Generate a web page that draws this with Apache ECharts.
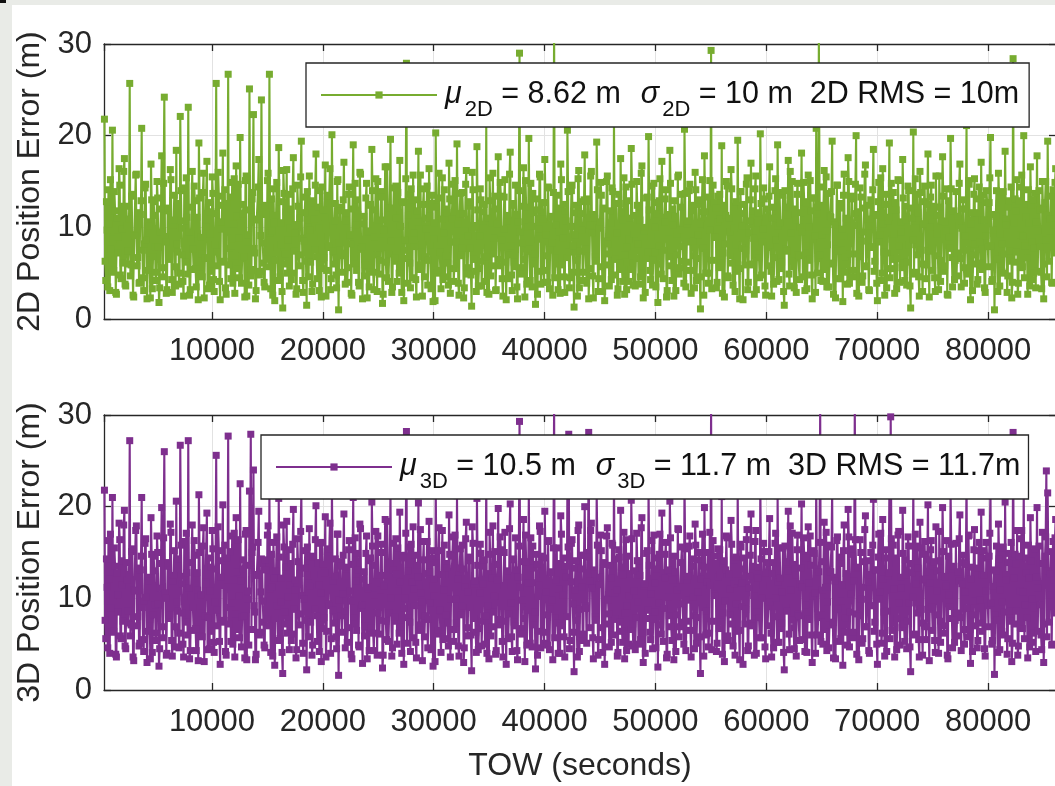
<!DOCTYPE html>
<html><head><meta charset="utf-8">
<script src="https://cdn.jsdelivr.net/npm/echarts@6/dist/echarts.min.js"></script>
<style>html,body{margin:0;padding:0;overflow:hidden;background:#fff}#main{width:1060px;height:786px}</style>
</head><body><div id="main"></div>
<script>
// ---- data ----
const TOW_START = 300;   // first epoch (s)
const TOW_STEP = 120;    // step between epochs of one array (s); the *_mid arrays sit half a step later
const X_MIN = 260, X_MAX = 86130;
const Y_MIN = 0, Y_MAX = 30, Y_STEP = 10;

const err2D = [
21.8, 4.2, 9.7, 14.1, 3.1, 7.6, 20.6, 5.3, 11.8, 2.7, 8.9, 16.4, 4.8, 12.3, 6.1, 17.5, 3.6, 10.2, 7.4, 25.7,
5.9, 13.6, 2.4, 9.1, 15.8, 6.7, 3.9, 11.4, 20.8, 4.5, 8.2, 14.7, 2.2, 10.6, 6.4, 16.9, 3.3, 12.8, 7.9, 5.1,
13.2, 1.8, 9.5, 17.8, 4.6, 24.2, 8.4, 3.2, 12.1, 6.9, 15.2, 2.9, 10.8, 5.7, 18.4, 7.3, 3.8, 22.1, 9.9, 4.1,
14.3, 6.2, 11.1, 23.1, 2.6, 8.7, 16.1, 5.4, 12.9, 3.5, 9.3, 19.2, 4.9, 7.1, 13.8, 2.3, 10.1, 17.2, 6.6, 3.7,
11.7, 15.5, 4.3, 8.1, 25.7, 5.8, 13.4, 2.1, 9.8, 18.1, 6.3, 3.4, 12.6, 26.7, 7.7, 4.4, 14.9, 10.4, 2.8, 16.7,
5.5, 8.8, 19.8, 3.9, 11.5, 6.8, 15.1, 2.5, 9.2, 25.1, 4.7, 13.1, 22.3, 7.2, 3.1, 10.9, 17.4, 5.2, 23.9, 8.3,
4.0, 12.4, 6.5, 15.9, 26.7, 3.3, 9.6, 14.2, 2.0, 11.3, 7.8, 18.7, 4.6, 10.5, 1.2, 13.7, 6.0, 16.3, 8.6, 3.6,
12.0, 5.0, 17.6, 9.4, 2.7, 14.6, 7.0, 11.0, 19.4, 4.2, 8.5, 13.3, 1.5, 10.0, 15.6, 6.2, 3.0, 12.7, 7.5, 18.0,
4.4, 9.9, 14.0, 2.4, 11.9, 6.7, 16.8, 5.3, 8.0, 13.5, 3.2, 20.1, 7.4, 10.7, 4.8, 15.0, 1.0, 12.2, 6.9, 9.0,
17.1, 3.8, 11.6, 5.6, 14.4, 8.2, 2.6, 19.0, 6.0, 10.3, 13.0, 4.0, 16.0, 7.6, 2.2, 11.2, 5.9, 14.8, 9.5, 3.5,
12.5, 18.5, 5.1, 8.9, 15.3, 3.0, 10.8, 6.4, 13.9, 1.7, 9.7, 16.6, 4.5, 12.1, 7.1, 19.6, 2.9, 11.4, 6.3, 14.5,
4.1, 9.3, 17.3, 5.7, 12.8, 2.0, 8.6, 27.9, 6.6, 13.6, 3.4, 10.2, 15.7, 7.9, 4.3, 11.8, 18.3, 5.4, 9.0, 2.5,
14.2, 6.8, 11.0, 3.7, 16.4, 8.1, 12.6, 1.9, 10.5, 20.3, 5.0, 13.2, 7.2, 3.3, 15.4, 9.4, 4.6, 12.0, 6.1, 17.0,
2.8, 10.9, 14.7, 5.5, 8.4, 19.1, 3.9, 11.5, 6.9, 13.8, 2.3, 9.6, 16.2, 4.9, 12.3, 7.7, 1.4, 14.1, 10.0, 5.2,
18.8, 3.6, 9.1, 13.0, 6.3, 11.7, 4.1, 21.4, 7.8, 2.7, 12.9, 5.8, 15.9, 8.8, 3.1, 10.4, 17.7, 6.5, 13.4, 4.4,
9.8, 15.2, 2.1, 11.3, 7.0, 18.2, 4.8, 12.4, 6.2, 14.6, 3.5, 10.6, 29.0, 5.6, 8.3, 16.5, 2.4, 12.2, 7.4, 19.7,
4.2, 10.1, 13.7, 6.0, 1.6, 11.9, 8.7, 15.8, 3.8, 12.7, 5.3, 17.4, 9.2, 4.0, 14.3, 7.5, 11.1, 2.6, 32.0, 6.7,
13.5, 3.2, 9.5, 16.9, 5.9, 12.5, 2.9, 10.7, 20.6, 7.3, 4.5, 14.0, 8.0, 1.3, 11.6, 6.4, 15.3, 3.4, 12.8, 9.7,
5.1, 17.9, 7.6, 13.1, 2.2, 10.3, 16.1, 4.7, 11.4, 6.8, 19.3, 3.0, 9.9, 14.9, 5.7, 12.1, 2.0, 8.5, 15.6, 7.1,
11.8, 4.3, 13.9, 21.9, 6.5, 9.4, 3.3, 12.6, 17.5, 5.4, 10.8, 2.7, 14.4, 7.9, 4.1, 11.0, 18.6, 6.1, 9.3, 3.6,
15.0, 8.2, 12.2, 4.6, 16.7, 2.3, 10.0, 6.6, 13.3, 19.9, 5.3, 9.0, 3.7, 14.8, 7.3, 11.5, 1.8, 12.9, 6.0, 17.2,
4.4, 10.6, 14.1, 3.1, 8.7, 18.4, 5.8, 12.0, 2.5, 11.2, 7.0, 15.5, 4.9, 9.7, 13.6, 6.3, 20.7, 3.5, 10.4, 8.4,
14.7, 2.8, 12.4, 6.9, 16.0, 4.2, 9.2, 13.0, 1.1, 11.7, 7.7, 17.8, 5.0, 10.2, 3.9, 15.1, 29.3, 6.4, 12.7, 8.9,
3.4, 13.4, 5.6, 10.9, 18.9, 7.2, 2.4, 11.3, 14.5, 4.5, 9.5, 16.3, 6.1, 12.3, 3.0, 8.1, 19.5, 5.5, 13.9, 10.1,
2.1, 12.5, 7.5, 15.4, 4.0, 10.7, 17.0, 5.9, 8.8, 14.2, 3.2, 11.6, 6.7, 20.2, 4.8, 9.8, 13.1, 2.6, 12.0, 7.8,
16.6, 5.2, 11.0, 3.8, 14.0, 8.6, 19.0, 4.3, 10.5, 6.2, 13.5, 1.5, 12.2, 7.4, 17.3, 3.6, 9.4, 15.0, 5.7, 11.4,
2.9, 14.8, 6.9, 10.0, 18.1, 4.6, 12.8, 8.0, 3.3, 15.7, 6.5, 11.8, 2.2, 13.2, 9.1, 20.8, 5.0, 31.0, 7.0, 12.4,
4.1, 16.2, 9.6, 3.5, 13.7, 6.0, 11.1, 19.4, 2.7, 10.3, 7.6, 14.6, 4.4, 12.6, 8.3, 1.9, 15.8, 6.8, 10.9, 17.6,
3.9, 9.0, 13.4, 5.3, 11.5, 20.0, 7.1, 2.5, 14.3, 8.5, 4.7, 12.1, 16.8, 5.8, 10.1, 3.1, 13.0, 7.9, 18.5, 6.3,
11.3, 2.0, 14.9, 9.2, 4.2, 16.4, 7.3, 12.5, 3.4, 10.7, 19.2, 5.5, 8.7, 13.8, 2.8, 11.9, 6.6, 15.1, 4.0, 9.5,
17.4, 6.1, 12.3, 3.7, 14.5, 8.1, 1.2, 11.0, 20.4, 5.1, 9.9, 13.6, 4.6, 16.1, 7.5, 3.0, 12.8, 10.4, 5.9, 18.0,
2.4, 13.3, 7.8, 11.7, 4.5, 15.6, 9.3, 3.2, 12.2, 6.4, 17.7, 5.2, 10.6, 14.2, 2.6, 8.9, 19.7, 6.7, 11.4, 4.3,
13.9, 7.2, 10.2, 16.9, 3.5, 12.0, 5.6, 9.1, 21.1, 4.9, 14.7, 2.1, 11.6, 7.0, 15.3, 6.0, 3.8, 13.1, 8.4, 17.1,
5.4, 10.8, 2.9, 14.0, 7.9, 12.7, 19.8, 4.1, 9.7, 1.0, 11.2, 6.5, 15.9, 3.6, 13.5, 8.2, 5.0, 18.3, 10.3, 4.7,
12.9, 7.4, 2.3, 28.4, 6.2, 11.8, 15.2, 3.9, 9.2, 14.4, 5.7, 20.0, 8.0, 12.5, 2.7, 10.5, 16.6, 4.3, 13.0, 7.7,
3.4, 17.8, 9.6, 11.9, 5.1, 15.0, 2.2, 12.7, 8.6, 19.4, 6.3, 10.9, 4.0, 14.1, 7.2, 16.4, 3.3, 11.5, 9.0, 13.7
];
const err2D_mid = [
6.3, 12.8, 3.5, 10.4, 15.2, 5.1, 8.7, 13.9, 2.9, 11.0, 7.2, 14.6, 4.4, 9.8, 16.1, 3.8, 12.3, 6.0, 10.9, 4.7,
13.4, 2.6, 9.2, 15.7, 5.8, 11.6, 4.0, 12.9, 7.5, 3.1, 14.3, 8.6, 5.3, 10.1, 2.3, 13.0, 6.8, 11.3, 4.2, 15.0,
7.9, 3.4, 12.0, 5.6, 14.8, 9.0, 2.8, 11.8, 6.5, 16.3, 4.3, 10.3, 13.5, 3.6, 8.2, 12.6, 5.0, 14.0, 7.0, 2.5,
10.7, 15.4, 4.9, 9.5, 3.2, 12.2, 7.6, 14.5, 5.5, 11.1, 2.1, 13.2, 8.9, 4.6, 15.9, 6.7, 10.0, 3.3, 12.7, 9.3,
5.2, 13.7, 3.0, 11.5, 7.3, 16.0, 4.1, 10.6, 12.4, 6.2, 14.1, 2.7, 9.6, 5.9, 13.3, 8.0, 3.9, 15.3, 6.9, 11.2,
14.7, 4.5, 10.2, 6.6, 12.5, 2.4, 15.6, 8.4, 3.7, 11.9, 5.4, 13.8, 7.7, 2.2, 10.8, 14.4, 4.8, 9.1, 12.1, 6.1,
3.5, 11.4, 15.1, 5.7, 9.4, 13.1, 2.6, 10.5, 6.4, 14.9, 4.2, 12.8, 8.1, 3.0, 16.2, 7.1, 11.7, 5.0, 13.6, 9.9,
4.3, 14.2, 7.4, 10.3, 3.3, 12.3, 5.8, 15.5, 8.8, 2.9, 11.6, 6.3, 13.9, 4.6, 9.7, 12.9, 3.8, 10.9, 14.6, 6.8,
12.2, 3.1, 9.0, 14.4, 5.5, 11.1, 2.5, 13.4, 7.8, 16.4, 4.4, 10.2, 6.0, 12.6, 3.4, 15.2, 8.3, 11.8, 5.1, 13.0,
7.2, 10.7, 4.0, 13.6, 9.2, 2.8, 12.0, 6.6, 14.8, 5.3, 11.4, 3.6, 15.8, 7.9, 10.4, 4.7, 13.2, 2.3, 9.6, 12.4,
5.6, 14.0, 3.2, 11.9, 7.0, 15.0, 4.9, 9.3, 13.3, 2.7, 10.8, 6.2, 16.6, 4.1, 12.1, 8.5, 3.5, 14.3, 6.7, 11.0,
13.8, 5.0, 10.1, 2.9, 12.7, 7.5, 15.3, 3.9, 11.3, 6.1, 14.2, 4.5, 9.4, 13.0, 2.4, 10.6, 5.9, 15.7, 8.1, 12.5,
4.6, 9.8, 14.5, 6.4, 11.2, 3.3, 13.5, 8.7, 2.0, 12.2, 5.3, 15.9, 7.3, 10.9, 4.3, 14.1, 6.9, 11.6, 3.7, 13.1,
8.4, 12.9, 4.1, 15.1, 6.0, 10.4, 2.6, 13.7, 7.7, 11.5, 3.4, 14.7, 5.6, 9.1, 12.8, 4.8, 16.0, 6.5, 10.2, 3.0,
11.9, 5.5, 14.2, 3.6, 9.9, 12.5, 6.8, 2.9, 11.0, 15.4, 4.7, 10.5, 7.1, 13.4, 3.2, 12.0, 5.8, 14.9, 8.6, 2.5,
13.3, 6.2, 10.7, 4.4, 15.8, 8.0, 3.1, 12.6, 5.7, 11.4, 2.2, 14.0, 9.5, 4.9, 12.3, 6.5, 15.1, 3.8, 10.0, 7.6,
14.8, 3.5, 11.6, 7.1, 13.1, 2.7, 9.8, 15.5, 5.2, 10.9, 4.0, 12.7, 6.9, 14.4, 3.3, 11.2, 8.3, 13.8, 4.5, 10.3,
6.0, 12.1, 2.8, 15.2, 8.8, 4.6, 11.8, 6.7, 13.9, 3.4, 10.1, 14.6, 5.1, 9.2, 12.4, 2.5, 16.2, 7.4, 11.5, 4.2,
13.0, 7.8, 3.9, 12.8, 5.5, 15.6, 9.4, 2.3, 11.0, 6.3, 14.1, 4.4, 10.6, 13.5, 3.0, 12.0, 5.9, 15.0, 8.2, 3.6,
10.5, 14.3, 4.8, 9.0, 12.6, 2.6, 13.6, 6.1, 11.7, 4.1, 15.4, 7.0, 3.2, 12.9, 8.7, 5.4, 14.7, 3.7, 11.3, 6.6,
12.4, 3.8, 10.8, 15.9, 5.0, 9.6, 2.9, 13.2, 7.3, 11.9, 4.3, 14.5, 6.4, 10.0, 3.5, 12.7, 8.0, 15.3, 4.9, 11.1,
7.5, 13.1, 2.4, 11.4, 6.8, 14.8, 4.2, 10.3, 12.9, 3.1, 9.3, 15.7, 5.6, 12.2, 7.9, 3.9, 13.7, 6.2, 10.7, 14.0,
5.3, 11.8, 8.5, 3.4, 14.1, 6.6, 12.5, 4.6, 10.4, 15.2, 2.6, 11.7, 7.2, 13.3, 5.0, 9.7, 3.3, 14.6, 8.9, 12.1,
4.0, 10.6, 13.6, 6.1, 2.8, 12.4, 8.2, 15.0, 4.7, 11.0, 6.9, 14.2, 3.7, 9.9, 12.8, 5.2, 10.2, 2.2, 13.9, 7.7,
11.5, 5.9, 14.7, 3.2, 9.4, 13.0, 6.0, 11.8, 2.7, 15.6, 7.1, 10.5, 4.5, 12.6, 8.4, 14.3, 3.6, 11.1, 5.8, 13.4,
8.1, 2.5, 12.2, 6.7, 15.3, 4.1, 10.1, 13.8, 5.5, 9.0, 3.0, 14.0, 7.6, 11.3, 4.9, 16.1, 6.3, 12.0, 3.4, 10.8,
13.6, 7.0, 4.3, 11.6, 9.5, 14.9, 3.1, 12.7, 6.4, 10.0, 15.1, 4.8, 8.7, 13.2, 2.9, 11.5, 6.6, 14.4, 4.2, 9.2,
12.3, 5.4, 15.5, 8.1, 3.5, 11.2, 13.9, 6.1, 10.6, 2.3, 14.6, 7.4, 12.1, 4.4, 9.8, 13.5, 5.1, 11.0, 3.8, 15.0,
7.1, 13.1, 4.6, 10.2, 14.7, 2.8, 11.7, 6.8, 13.3, 4.0, 9.5, 15.8, 5.7, 12.4, 3.2, 10.9, 7.8, 14.1, 5.2, 11.4,
3.9, 12.8, 8.4, 15.4, 5.0, 10.4, 2.6, 13.6, 7.2, 11.1, 4.5, 14.8, 6.5, 9.3, 12.7, 3.3, 15.2, 8.0, 10.6, 5.6,
13.2, 4.2, 10.8, 6.2, 14.0, 3.6, 12.1, 8.6, 4.9, 15.3, 7.0, 11.6, 2.5, 13.8, 6.0, 10.3, 14.5, 4.4, 12.5, 7.4,
10.0, 14.6, 5.3, 12.3, 3.0, 11.3, 6.9, 15.6, 4.1, 10.7, 13.4, 5.8, 9.6, 2.7, 12.9, 7.7, 14.2, 3.5, 11.8, 6.4,
4.7, 11.2, 14.8, 6.6, 9.9, 13.0, 3.9, 12.0, 7.5, 15.1, 5.4, 10.4, 3.1, 13.6, 8.2, 11.6, 4.3, 14.4, 6.1, 10.8,
13.5, 3.4, 9.1, 12.7, 5.7, 15.4, 8.0, 4.3, 11.4, 6.9, 14.0, 3.0, 12.6, 9.3, 5.2, 13.9, 7.1, 10.9, 2.9, 12.2,
6.3, 14.4, 4.0, 10.5, 13.1, 7.3, 2.7, 12.9, 5.6, 15.7, 9.1, 4.5, 11.1, 6.7, 14.1, 3.6, 12.4, 8.4, 5.0, 13.7,
10.6, 5.2, 14.0, 7.9, 3.3, 12.1, 6.0, 15.0, 4.6, 11.3, 8.8, 13.4, 3.9, 10.3, 14.9, 5.7, 12.0, 7.0, 4.4, 11.7
];

const err3D = [
21.8, 5.6, 11.2, 16.3, 4.0, 8.9, 21.0, 6.4, 13.5, 3.6, 10.4, 18.2, 5.9, 14.1, 7.5, 19.6, 4.5, 12.0, 8.6, 27.2,
7.1, 15.4, 3.2, 10.8, 17.9, 8.0, 4.8, 13.1, 21.0, 5.5, 9.7, 16.5, 3.0, 12.3, 7.7, 18.8, 4.1, 14.6, 9.3, 6.2,
15.0, 2.6, 11.1, 19.9, 5.7, 26.0, 10.0, 4.0, 13.9, 8.2, 17.2, 3.7, 12.5, 6.9, 20.6, 8.6, 4.6, 26.7, 11.6, 5.0,
16.2, 7.4, 12.8, 27.2, 3.4, 10.2, 18.0, 6.5, 14.7, 4.3, 10.9, 21.3, 5.9, 8.4, 15.7, 3.1, 11.8, 19.3, 7.9, 4.5,
13.4, 17.4, 5.2, 9.6, 25.6, 7.0, 15.2, 2.8, 11.4, 20.2, 7.6, 4.2, 14.4, 27.7, 9.0, 5.3, 16.8, 12.0, 3.6, 18.8,
6.6, 10.3, 22.5, 4.7, 13.2, 8.1, 17.0, 3.3, 10.8, 21.7, 27.9, 15.0, 24.0, 8.5, 3.9, 12.6, 19.5, 6.3, 14.3, 9.7,
4.9, 14.2, 7.7, 17.9, 21.5, 4.1, 11.2, 16.1, 2.7, 13.0, 9.2, 20.9, 5.6, 12.2, 1.8, 15.6, 7.2, 18.4, 10.1, 4.4,
13.8, 6.1, 19.7, 10.9, 3.5, 16.5, 8.3, 12.7, 21.6, 5.1, 9.9, 15.2, 2.2, 11.7, 17.6, 7.4, 3.8, 14.5, 8.8, 20.1,
5.3, 11.5, 16.0, 3.1, 13.7, 7.9, 18.9, 6.4, 9.4, 15.4, 4.0, 22.2, 8.7, 12.4, 5.8, 17.0, 1.6, 14.0, 8.1, 10.5,
19.2, 4.6, 13.4, 6.8, 16.3, 9.7, 3.4, 21.0, 7.2, 11.9, 14.9, 4.9, 18.1, 8.9, 2.9, 12.9, 7.0, 16.8, 11.0, 4.3,
14.4, 20.5, 6.2, 10.4, 17.3, 3.8, 12.5, 7.6, 15.9, 2.4, 11.3, 18.6, 5.5, 13.9, 8.4, 21.8, 3.7, 13.1, 7.5, 16.5,
5.0, 10.8, 19.4, 6.9, 14.7, 2.8, 10.0, 28.2, 7.9, 15.6, 4.2, 11.8, 17.8, 9.2, 5.2, 13.6, 20.4, 6.5, 10.6, 3.2,
16.2, 8.1, 12.7, 4.6, 18.4, 9.5, 14.4, 2.6, 12.1, 22.4, 6.1, 15.2, 8.6, 4.1, 17.4, 10.9, 5.6, 13.8, 7.3, 19.1,
3.6, 12.6, 16.7, 6.6, 9.9, 21.2, 4.8, 13.3, 8.2, 15.8, 3.0, 11.2, 18.3, 5.9, 14.1, 9.0, 2.1, 16.0, 11.6, 6.3,
20.9, 4.4, 10.6, 14.9, 7.5, 13.5, 5.0, 23.6, 9.2, 3.4, 14.8, 6.9, 17.9, 10.3, 3.9, 12.0, 19.8, 7.7, 15.3, 5.3,
11.4, 17.2, 2.8, 13.0, 8.3, 20.3, 5.8, 14.2, 7.4, 16.6, 4.3, 12.3, 29.3, 6.7, 9.8, 18.6, 3.1, 14.0, 8.7, 21.9,
5.1, 11.7, 15.7, 7.1, 2.3, 13.7, 10.2, 17.9, 4.6, 14.6, 6.3, 19.5, 10.7, 4.9, 16.3, 8.8, 12.8, 3.3, 31.5, 7.9,
15.5, 4.0, 11.0, 19.0, 7.0, 14.4, 3.6, 12.3, 22.8, 27.9, 5.4, 16.0, 9.4, 2.0, 13.3, 7.6, 17.4, 4.2, 14.7, 11.2,
6.1, 20.0, 8.9, 15.0, 28.1, 11.9, 18.2, 5.7, 13.1, 8.0, 21.5, 3.8, 11.5, 16.9, 6.8, 13.9, 2.8, 9.9, 17.7, 8.3,
13.6, 5.2, 15.8, 23.9, 7.7, 10.9, 4.1, 14.5, 19.6, 6.4, 12.5, 3.4, 16.4, 9.2, 5.0, 12.7, 20.7, 7.2, 10.8, 4.4,
17.1, 9.6, 14.1, 5.5, 18.8, 3.0, 11.6, 7.8, 15.2, 22.0, 6.3, 10.5, 4.5, 16.9, 8.5, 13.2, 2.5, 14.8, 7.1, 19.3,
5.3, 12.2, 16.1, 3.9, 10.1, 20.6, 6.9, 13.9, 3.3, 12.9, 8.2, 17.6, 5.8, 11.2, 15.6, 7.4, 22.9, 4.3, 12.0, 9.8,
16.8, 3.6, 14.3, 8.1, 18.1, 5.1, 10.7, 15.0, 1.8, 13.5, 9.0, 19.9, 6.0, 11.8, 4.7, 17.2, 31.0, 7.5, 14.6, 10.3,
4.2, 15.4, 6.7, 12.6, 21.1, 8.4, 3.1, 13.1, 16.6, 5.4, 11.0, 18.5, 7.2, 14.2, 3.8, 9.4, 21.7, 6.5, 15.9, 11.7,
2.8, 14.4, 8.8, 17.5, 4.8, 12.4, 19.2, 7.0, 10.3, 16.2, 4.0, 13.4, 7.9, 22.3, 5.7, 11.4, 15.1, 3.4, 13.9, 9.1,
18.7, 6.2, 12.7, 4.6, 16.0, 10.0, 21.2, 5.2, 12.2, 7.3, 15.5, 2.2, 14.0, 8.6, 19.5, 4.4, 10.9, 17.1, 6.8, 13.2,
3.7, 16.9, 8.1, 11.6, 20.3, 5.5, 14.7, 9.3, 4.1, 17.8, 7.7, 13.6, 3.0, 15.2, 10.6, 22.9, 6.0, 12.9, 31.0, 8.2,
5.0, 18.3, 11.2, 4.3, 15.8, 7.1, 12.9, 21.6, 3.5, 11.9, 8.9, 16.7, 5.3, 14.5, 9.7, 2.7, 18.0, 7.9, 12.6, 19.7,
4.7, 10.5, 15.4, 6.3, 31.0, 13.3, 8.3, 3.3, 16.4, 9.9, 5.6, 14.0, 19.0, 6.9, 11.8, 4.0, 15.0, 9.2, 20.8, 7.4,
13.1, 2.8, 17.0, 10.7, 5.1, 18.6, 8.5, 14.4, 4.2, 12.4, 21.4, 29.8, 6.5, 15.8, 3.6, 13.8, 7.8, 17.3, 4.9, 11.1,
19.6, 7.2, 14.2, 4.5, 16.7, 9.5, 2.0, 12.8, 22.6, 6.1, 11.6, 15.7, 5.5, 18.3, 8.8, 3.8, 14.8, 12.1, 6.9, 20.2,
3.2, 15.3, 9.1, 13.5, 5.4, 17.8, 10.8, 4.0, 14.1, 7.5, 19.9, 6.2, 12.3, 16.3, 3.4, 10.4, 21.9, 7.8, 13.2, 5.2,
16.0, 8.4, 11.9, 19.1, 4.3, 13.9, 6.6, 10.7, 23.2, 5.8, 16.9, 2.9, 13.4, 8.2, 17.5, 7.0, 4.6, 15.2, 9.8, 19.4,
6.4, 12.5, 3.7, 16.1, 9.2, 14.6, 21.9, 5.0, 11.3, 1.7, 13.0, 7.6, 18.1, 4.4, 15.5, 9.6, 6.0, 20.5, 12.0, 5.6,
14.9, 8.6, 3.1, 28.1, 7.2, 13.7, 17.4, 4.8, 10.8, 16.5, 6.7, 22.1, 9.3, 14.4, 3.5, 12.2, 18.8, 5.2, 15.0, 8.9,
4.2, 19.9, 11.1, 13.8, 6.0, 17.2, 3.0, 14.6, 23.9, 21.5, 7.4, 12.7, 4.9, 16.2, 8.4, 18.6, 4.1, 13.3, 10.5, 15.8
];
const err3D_mid = [
7.6, 14.3, 4.6, 12.1, 17.0, 6.3, 10.2, 15.5, 3.9, 12.8, 8.5, 16.4, 5.6, 11.5, 18.0, 4.8, 13.9, 7.3, 12.6, 5.9,
15.1, 3.6, 10.9, 17.4, 7.0, 13.3, 5.1, 14.6, 9.0, 4.2, 16.0, 10.1, 6.4, 11.9, 3.4, 14.8, 8.2, 13.0, 5.4, 16.8,
9.4, 4.5, 13.8, 6.9, 16.6, 10.6, 3.8, 13.5, 7.8, 18.1, 5.4, 11.9, 15.2, 4.7, 9.6, 14.3, 6.2, 15.8, 8.4, 3.6,
12.4, 17.1, 6.0, 11.1, 4.3, 13.9, 9.0, 16.3, 6.7, 12.8, 3.2, 15.0, 10.4, 5.8, 17.7, 8.1, 11.6, 4.4, 14.4, 10.8,
6.4, 15.4, 4.1, 13.2, 8.7, 17.8, 5.3, 12.3, 14.1, 7.4, 15.8, 3.8, 11.2, 7.2, 15.1, 9.5, 5.0, 17.1, 8.3, 12.9,
16.4, 5.7, 11.9, 8.0, 14.2, 3.5, 17.4, 9.9, 4.9, 13.6, 6.6, 15.6, 9.2, 3.3, 12.5, 16.1, 6.0, 10.7, 13.8, 7.4,
4.6, 13.1, 16.9, 7.0, 11.0, 14.8, 3.7, 12.2, 7.8, 16.7, 5.4, 14.5, 9.6, 4.1, 18.0, 8.5, 13.4, 6.2, 15.3, 11.5,
5.4, 15.9, 8.8, 12.0, 4.4, 14.0, 7.1, 17.3, 10.3, 4.0, 13.3, 7.6, 15.6, 5.8, 11.3, 14.6, 4.9, 12.6, 16.4, 8.1,
13.9, 4.2, 10.6, 16.1, 6.7, 12.8, 3.6, 15.1, 9.2, 18.2, 5.6, 11.9, 7.3, 14.3, 4.5, 17.0, 9.8, 13.5, 6.3, 14.7,
8.6, 12.4, 5.2, 15.3, 10.8, 3.9, 13.7, 7.9, 16.6, 6.5, 13.1, 4.7, 17.6, 9.3, 12.1, 5.9, 14.9, 3.4, 11.2, 14.1,
6.8, 15.7, 4.3, 13.6, 8.4, 16.8, 6.1, 10.9, 15.0, 3.8, 12.5, 7.5, 18.4, 5.3, 13.8, 10.0, 4.6, 16.0, 8.0, 12.7,
15.5, 6.2, 11.8, 4.0, 14.4, 8.9, 17.1, 5.1, 13.0, 7.4, 15.9, 5.7, 11.0, 14.7, 3.5, 12.3, 7.1, 17.5, 9.6, 14.2,
5.8, 11.4, 16.2, 7.7, 12.9, 4.4, 15.2, 10.3, 3.1, 13.9, 6.5, 17.7, 8.7, 12.6, 5.5, 15.8, 8.2, 13.3, 4.8, 14.8,
9.9, 14.6, 5.3, 16.9, 7.3, 12.1, 3.7, 15.4, 9.2, 13.2, 4.6, 16.5, 6.8, 10.7, 14.5, 6.0, 17.8, 7.8, 11.9, 4.1,
13.6, 6.7, 15.9, 4.8, 11.6, 14.2, 8.1, 4.0, 12.7, 17.2, 5.9, 12.2, 8.5, 15.1, 4.3, 13.7, 7.1, 16.7, 10.2, 3.6,
15.0, 7.5, 12.4, 5.6, 17.6, 9.5, 4.2, 14.3, 7.0, 13.1, 3.3, 15.7, 11.2, 6.1, 14.0, 7.8, 16.9, 4.9, 11.7, 9.0,
16.6, 4.7, 13.3, 8.5, 14.8, 3.8, 11.5, 17.3, 6.4, 12.6, 5.1, 14.4, 8.2, 16.2, 4.4, 12.9, 9.8, 15.5, 5.7, 12.0,
7.3, 13.8, 4.0, 17.0, 10.4, 5.8, 13.5, 8.0, 15.6, 4.5, 11.8, 16.4, 6.3, 10.9, 14.1, 3.6, 18.0, 8.8, 13.2, 5.4,
14.7, 9.2, 5.1, 14.5, 6.8, 17.4, 11.1, 3.4, 12.7, 7.6, 15.8, 5.5, 12.3, 15.2, 4.1, 13.7, 7.2, 16.8, 9.8, 4.7,
12.2, 16.0, 6.0, 10.6, 14.3, 3.7, 15.3, 7.4, 13.4, 5.2, 17.2, 8.4, 4.3, 14.6, 10.3, 6.6, 16.5, 4.8, 13.0, 7.9,
14.1, 5.0, 12.5, 17.7, 6.2, 11.3, 4.0, 14.9, 8.7, 13.6, 5.5, 16.3, 7.7, 11.7, 4.6, 14.4, 9.5, 17.0, 6.1, 12.8,
8.9, 14.8, 3.5, 13.1, 8.1, 16.6, 5.4, 12.0, 14.6, 4.2, 10.9, 17.5, 6.9, 13.9, 9.4, 5.0, 15.4, 7.5, 12.4, 15.7,
6.5, 13.5, 10.1, 4.5, 15.8, 7.9, 14.2, 5.8, 12.1, 17.0, 3.7, 13.4, 8.6, 15.0, 6.2, 11.4, 4.4, 16.3, 10.5, 13.8,
5.1, 12.3, 15.3, 7.4, 3.9, 14.1, 9.7, 16.8, 5.9, 12.7, 8.2, 15.9, 4.8, 11.6, 14.5, 6.4, 11.9, 3.3, 15.6, 9.1,
13.2, 7.2, 16.4, 4.3, 11.1, 14.7, 7.3, 13.5, 3.8, 17.4, 8.5, 12.2, 5.7, 14.3, 10.0, 16.0, 4.7, 12.8, 7.0, 15.1,
9.6, 3.6, 13.9, 8.0, 17.1, 5.2, 11.8, 15.5, 6.7, 10.7, 4.1, 15.7, 9.0, 13.0, 6.1, 17.9, 7.6, 13.7, 4.5, 12.5,
15.3, 8.3, 5.4, 13.3, 11.2, 16.6, 4.2, 14.4, 7.7, 11.7, 16.8, 6.0, 10.3, 14.9, 4.0, 13.2, 7.9, 16.1, 5.3, 10.9,
14.0, 6.6, 17.2, 9.6, 4.6, 12.9, 15.6, 7.4, 12.3, 3.4, 16.3, 8.8, 13.8, 5.6, 11.5, 15.2, 6.3, 12.7, 4.9, 16.7,
8.5, 14.8, 5.7, 11.9, 16.4, 3.9, 13.4, 8.1, 15.0, 5.1, 11.2, 17.5, 6.9, 14.1, 4.3, 12.6, 9.2, 15.8, 6.4, 13.1,
5.0, 14.5, 9.9, 17.1, 6.2, 12.1, 3.7, 15.3, 8.6, 12.8, 5.6, 16.5, 7.8, 11.0, 14.4, 4.4, 16.9, 9.5, 12.3, 6.8,
14.9, 5.3, 12.5, 7.5, 15.7, 4.7, 13.8, 10.1, 6.0, 17.0, 8.4, 13.3, 3.6, 15.5, 7.3, 12.0, 16.2, 5.5, 14.2, 8.8,
11.7, 16.3, 6.5, 14.0, 4.1, 13.0, 8.2, 17.3, 5.2, 12.4, 15.1, 7.0, 11.3, 3.8, 14.6, 9.1, 15.9, 4.6, 13.5, 7.6,
5.9, 12.9, 16.5, 7.9, 11.6, 14.7, 5.0, 13.7, 8.9, 16.8, 6.6, 12.1, 4.2, 15.3, 9.7, 13.3, 5.4, 16.1, 7.3, 12.5,
15.2, 4.5, 10.8, 14.4, 6.9, 17.1, 9.5, 5.4, 13.1, 8.2, 15.7, 4.1, 14.3, 10.9, 6.4, 15.6, 8.5, 12.6, 3.9, 13.9,
7.5, 16.1, 5.1, 12.2, 14.8, 8.6, 3.8, 14.6, 6.8, 17.4, 10.7, 5.6, 12.8, 7.9, 15.8, 4.7, 14.1, 9.9, 6.2, 15.4,
12.3, 6.4, 15.7, 9.3, 4.4, 13.8, 7.2, 16.7, 5.8, 13.0, 10.4, 15.1, 5.0, 12.0, 16.6, 6.9, 13.7, 8.3, 5.6, 13.4
];

const stats2D = ['8.62', '10', '10'];   // mean, sigma, RMS
const stats3D = ['10.5', '11.7', '11.7'];
const yTitles = ['2D Position Error (m)', '3D Position Error (m)'];
const xTitle = 'TOW (seconds)';

// ---- chart ----
const GREEN = '#77AC30', PURPLE = '#7E2F8E', AX = '#262626';
const FONT = "'Liberation Sans', Arial, Helvetica, sans-serif";
const tow = i => TOW_START + TOW_STEP * i;
function pairs(main, mid) {
  const out = [];
  for (let i = 0; i < main.length; i++) {
    out.push([tow(i), main[i]]);
    if (i < mid.length) out.push([tow(i) + TOW_STEP / 2, mid[i]]);
  }
  return out;
}

function xAxes(g, named) {
  const common = {
    gridIndex: g, type: 'value', min: X_MIN, max: X_MAX, splitNumber: 9,
    axisLine: {show: true, onZero: false, lineStyle: {color: AX, width: 1.3}},
    axisTick: {show: true, inside: true, length: 7, lineStyle: {color: AX, width: 1.3}}
  };
  return [
    Object.assign({}, common, {
      position: 'bottom',
      axisLabel: {show: true, fontSize: 31, color: AX, fontFamily: FONT, margin: 17,
        showMinLabel: false, showMaxLabel: false, formatter: v => String(v)},
      splitLine: {show: true, lineStyle: {color: '#e2e2e2', width: 1}},
      name: named ? xTitle : '', nameLocation: 'middle', nameGap: 60,
      nameTextStyle: {fontSize: 32, color: AX, fontFamily: FONT}
    }),
    Object.assign({}, common, {
      position: 'top', axisLabel: {show: false}, splitLine: {show: false}
    })
  ];
}
function yAxes(g, title) {
  const common = {
    gridIndex: g, type: 'value', min: Y_MIN, max: Y_MAX, interval: Y_STEP,
    axisLine: {show: true, onZero: false, lineStyle: {color: AX, width: 1.3}},
    axisTick: {show: true, inside: true, length: 7, lineStyle: {color: AX, width: 1.3}}
  };
  return [
    Object.assign({}, common, {
      position: 'left',
      axisLabel: {show: true, fontSize: 31, color: AX, fontFamily: FONT, margin: 12},
      splitLine: {show: true, lineStyle: {color: '#e2e2e2', width: 1}},
      name: title, nameLocation: 'middle', nameGap: 51,
      nameTextStyle: {fontSize: 32, color: AX, fontFamily: FONT}
    }),
    Object.assign({}, common, {
      position: 'right', axisLabel: {show: false}, splitLine: {show: false}
    })
  ];
}
function legendText(tag, s) {
  return '{i|\u03bc}{s|' + tag + '}{t| = ' + s[0] + ' m  }{i|\u03c3}{s|' + tag + '}{t| = ' + s[1] + ' m  ' + tag + ' RMS = ' + s[2] + 'm}';
}
const rich = {
  t: {fontSize: 30.5, fontFamily: FONT, color: '#111', lineHeight: 36},
  i: {fontSize: 30.5, fontFamily: FONT, fontStyle: 'italic', color: '#111', lineHeight: 36, padding: [0, 3, 0, 3]},
  s: {fontSize: 22, fontFamily: FONT, color: '#111', lineHeight: 22, padding: [30, 0, 0, 0]}
};
function legend(name, left, top, text, padRight) {
  return {
    data: [name], left: left, top: top, orient: 'horizontal', selectedMode: false,
    itemWidth: 116, itemHeight: 9, padding: [6, padRight, 6, 14],
    backgroundColor: '#fff', borderColor: AX, borderWidth: 1.3, borderRadius: 0,
    formatter: () => text,
    textStyle: {rich: rich}
  };
}

const chart = echarts.init(document.getElementById('main'), null, {renderer: 'canvas'});
chart.setOption({
  animation: false,
  backgroundColor: '#fff',
  graphic: [
    {type: 'rect', left: 0, top: 0, shape: {width: 12, height: 786}, style: {fill: '#e9ebe7'}, silent: true},
    {type: 'rect', left: 0, top: 0, shape: {width: 1060, height: 5}, style: {fill: '#e9ebe7'}, silent: true},
    {type: 'rect', left: 0, top: 0, shape: {width: 6, height: 3}, style: {fill: '#111'}, silent: true}
  ],
  grid: [
    {left: 104, right: 4, top: 44, height: 275, containLabel: false},
    {left: 104, right: 4, top: 415, height: 275, containLabel: false}
  ],
  xAxis: [].concat(xAxes(0, false), xAxes(1, true)),
  yAxis: [].concat(yAxes(0, yTitles[0]), yAxes(1, yTitles[1])),
  legend: [
    legend('2D', 306, 63, legendText('2D', stats2D), 10),
    legend('3D', 261, 435, legendText('3D', stats3D), 8)
  ],
  series: [
    {type: 'line', name: '2D', xAxisIndex: 0, yAxisIndex: 0, data: pairs(err2D, err2D_mid),
     symbol: 'rect', symbolSize: 7, showSymbol: true, showAllSymbol: true, clip: true,
     lineStyle: {width: 2.1, color: GREEN}, itemStyle: {color: GREEN}, emphasis: {disabled: true}},
    {type: 'line', name: '3D', xAxisIndex: 2, yAxisIndex: 2, data: pairs(err3D, err3D_mid),
     symbol: 'rect', symbolSize: 7, showSymbol: true, showAllSymbol: true, clip: true,
     lineStyle: {width: 2.1, color: PURPLE}, itemStyle: {color: PURPLE}, emphasis: {disabled: true}}
  ]
});
</script></body></html>
